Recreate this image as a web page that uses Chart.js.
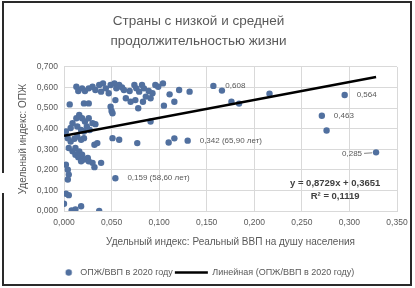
<!DOCTYPE html>
<html>
<head>
<meta charset="utf-8">
<script src="https://cdn.jsdelivr.net/npm/chart.js@4.4.1/dist/chart.umd.min.js"></script>
<style>
  html, body { margin: 0; padding: 0; background: #ffffff; }
  #wrap { width: 415px; height: 288px; }
</style>
</head>
<body>
<div id="wrap"><canvas id="c" width="415" height="288"></canvas></div>
<script>
// ---------- data ----------
const chartTitle = ['Страны с низкой и средней', 'продолжительностью жизни'];
const xAxisTitle = 'Удельный индекс: Реальный ВВП на душу населения';
const yAxisTitle = 'Удельный индекс: ОПЖ';
const seriesName = 'ОПЖ/ВВП в 2020 году';
const trendName = 'Линейная (ОПЖ/ВВП в 2020 году)';

const xValues = [
  0.013,0.015,0.019,0.022,0.026,0.030,0.033,0.037,0.039,0.041,0.044,0.047,0.049,0.053,0.055,0.058,
  0.061,0.063,0.069,0.074,0.076,0.079,0.082,0.084,0.089,0.093,0.096,0.099,0.104,0.111,0.121,0.132,
  0.006,0.021,0.026,0.049,0.050,0.054,0.065,0.070,0.075,0.078,0.083,0.086,0.091,0.105,0.116,
  0.051,0.091,
  0.002,0.000,0.007,0.009,0.013,0.016,0.019,0.022,0.026,0.030,0.033,0.014,0.018,0.021,0.027,0.024,
  0.004,0.007,0.011,0.014,0.018,0.021,0.032,0.035,0.005,0.009,0.012,0.016,0.012,0.015,0.019,0.021,
  0.018,0.025,0.026,0.002,0.032,0.039,0.030,0.004,0.005,0.004,0.002,0.005,0.000,0.008,0.012,0.018,0.037,
  0.051,0.058,0.077,0.110,0.116,
  0.130,0.054,0.157,0.295,0.271,0.328,
  0.166,0.176,0.184,0.216,0.276
];
const yValues = [
  0.604,0.583,0.596,0.583,0.596,0.604,0.588,0.612,0.580,0.620,0.596,0.572,0.612,0.620,0.596,0.612,
  0.600,0.588,0.583,0.612,0.596,0.580,0.612,0.596,0.583,0.572,0.612,0.604,0.620,0.567,0.588,0.580,
  0.518,0.523,0.523,0.507,0.486,0.539,0.548,0.531,0.539,0.499,0.531,0.556,0.548,0.512,0.531,
  0.475,0.435,
  0.386,0.378,0.403,0.427,0.451,0.467,0.451,0.435,0.451,0.427,0.422,0.411,0.394,0.386,0.394,0.411,
  0.354,0.338,0.351,0.362,0.346,0.354,0.322,0.330,0.306,0.290,0.306,0.290,0.273,0.261,0.273,0.250,
  0.242,0.258,0.242,0.225,0.213,0.234,0.234,0.201,0.177,0.153,0.084,0.077,0.035,0.003,0.008,0.023,0.000,
  0.354,0.346,0.330,0.333,0.353,
  0.342,0.159,0.608,0.564,0.463,0.285,
  0.585,0.531,0.522,0.570,0.391
];

// labelled points (also part of the series above)
const noteX = [0.157, 0.295, 0.271, 0.328, 0.130, 0.054];
const noteY = [0.608, 0.564, 0.463, 0.285, 0.342, 0.159];
const noteText = ['0,608', '0,564', '0,463', '0,285', '0,342 (65,90 лет)', '0,159 (58,60 лет)'];

// linear trend line parameters (as printed on the chart)
const trendSlope = 0.8729;
const trendIntercept = 0.3651;
const trendR2 = 0.1119;

const xTicksMin = 0, xTicksMax = 0.35, xTicksStep = 0.05;
const yTicksMin = 0, yTicksMax = 0.7, yTicksStep = 0.1;

// ---------- build ----------
const FONT = "'Liberation Sans', Arial, sans-serif";
const GREY = '#595959';
const PT = '#51709f';
const fmt = (v, d) => v.toFixed(d).replace('.', ',');

const points = xValues.map((x, i) => ({ x: x, y: yValues[i] }));
const xMinData = Math.min(...xValues), xMaxData = Math.max(...xValues);
const trendPoints = [xMinData, xMaxData].map(x => ({ x: x, y: trendSlope * x + trendIntercept }));

// legend marker for the scatter series (circle placed at right end of a wide legend box)
const LEG_W = 33;
const marker = document.createElement('canvas');
marker.width = LEG_W; marker.height = 9;
(function () {
  const m = marker.getContext('2d');
  m.fillStyle = PT;
  m.beginPath(); m.arc(26, 4.5, 3.2, 0, Math.PI * 2); m.fill();
})();

const decorPlugin = {
  id: 'decor',
  afterDatasetsDraw(chart) {
    const ctx = chart.ctx;
    const xs = chart.scales.x, ys = chart.scales.y;
    ctx.save();
    ctx.font = "8px " + FONT;
    ctx.fillStyle = GREY;
    ctx.textBaseline = 'middle';
    noteText.forEach((t, i) => {
      const px = xs.getPixelForValue(noteX[i]);
      const py = ys.getPixelForValue(noteY[i]);
      if (i === 3) {
        ctx.textAlign = 'right';
        ctx.fillText(t, px - 14, py + 1);
        ctx.strokeStyle = '#7f7f7f'; ctx.lineWidth = 1;
        ctx.beginPath(); ctx.moveTo(px - 12, py + 1); ctx.lineTo(px - 4, py + 0.5); ctx.stroke();
      } else {
        ctx.textAlign = 'left';
        ctx.fillText(t, px + 12, py);
      }
    });
    // trend equation
    ctx.fillStyle = '#404040';
    ctx.font = "bold 9.5px " + FONT;
    ctx.textAlign = 'center';
    const ex = xs.getPixelForValue(0.285);
    ctx.fillText('y = ' + fmt(trendSlope, 4) + 'x + ' + fmt(trendIntercept, 4), ex, ys.getPixelForValue(0.135));
    ctx.fillText('R² = ' + fmt(trendR2, 4), ex, ys.getPixelForValue(0.072));
    ctx.restore();
  },
  afterDraw(chart) {
    const ctx = chart.ctx;
    ctx.save();
    ctx.strokeStyle = '#2a2a2a';
    ctx.lineWidth = 2;
    ctx.strokeRect(3, 2, 408, 283);
    ctx.fillStyle = '#ffffff';
    ctx.fillRect(0, 173, 17, 20);
    ctx.restore();
  }
};

new Chart(document.getElementById('c'), {
  type: 'scatter',
  data: {
    datasets: [
      {
        label: seriesName,
        data: points,
        backgroundColor: PT,
        borderColor: PT,
        pointRadius: 3.2,
        pointBorderWidth: 0,
        pointStyle: 'circle',
        order: 2
      },
      {
        type: 'line',
        label: trendName,
        data: trendPoints,
        borderColor: '#000000',
        backgroundColor: '#000000',
        borderWidth: 2.5,
        pointRadius: 0,
        pointStyle: 'line',
        fill: false,
        order: 1
      }
    ]
  },
  options: {
    responsive: false,
    animation: false,
    devicePixelRatio: 1,
    layout: { padding: { left: 0, right: 18, top: 0, bottom: 1 } },
    plugins: {
      tooltip: { enabled: false },
      title: {
        display: true,
        text: chartTitle,
        color: GREY,
        font: { family: FONT, size: 13.5, weight: 'normal', lineHeight: 1.48 },
        padding: { top: 11.5, bottom: 15.5 }
      },
      legend: {
        position: 'bottom',
        labels: {
          usePointStyle: true,
          pointStyleWidth: LEG_W,
          color: GREY,
          padding: 2,
          font: { family: FONT, size: 9 },
          sort: (a, b) => a.datasetIndex - b.datasetIndex,
          generateLabels: chart => {
            const items = Chart.defaults.plugins.legend.labels.generateLabels(chart);
            items.forEach(it => { if (it.datasetIndex === 0) it.pointStyle = marker; });
            return items;
          }
        }
      }
    },
    scales: {
      x: {
        type: 'linear',
        min: xTicksMin, max: xTicksMax,
        afterFit: s => { s.height = 55; },
        grid: { color: '#d9d9d9', drawTicks: false },
        border: { color: '#d9d9d9' },
        ticks: {
          stepSize: xTicksStep, padding: 7, color: GREY,
          font: { family: FONT, size: 8.5 },
          callback: v => fmt(v, 3)
        },
        title: {
          display: true, text: xAxisTitle, color: GREY,
          font: { family: FONT, size: 10 },
          padding: { top: 0, bottom: 17.5 }
        }
      },
      y: {
        type: 'linear',
        min: yTicksMin, max: yTicksMax,
        afterFit: s => { s.width = 64; },
        grid: { color: '#d9d9d9', drawTicks: false },
        border: { color: '#d9d9d9' },
        ticks: {
          stepSize: yTicksStep, padding: 6, color: GREY,
          font: { family: FONT, size: 8.5 },
          callback: v => fmt(v, 3)
        },
        title: {
          display: true, text: yAxisTitle, color: GREY,
          font: { family: FONT, size: 10 },
          padding: { top: 17, bottom: 0 }
        }
      }
    }
  },
  plugins: [decorPlugin]
});
</script>
</body>
</html>
